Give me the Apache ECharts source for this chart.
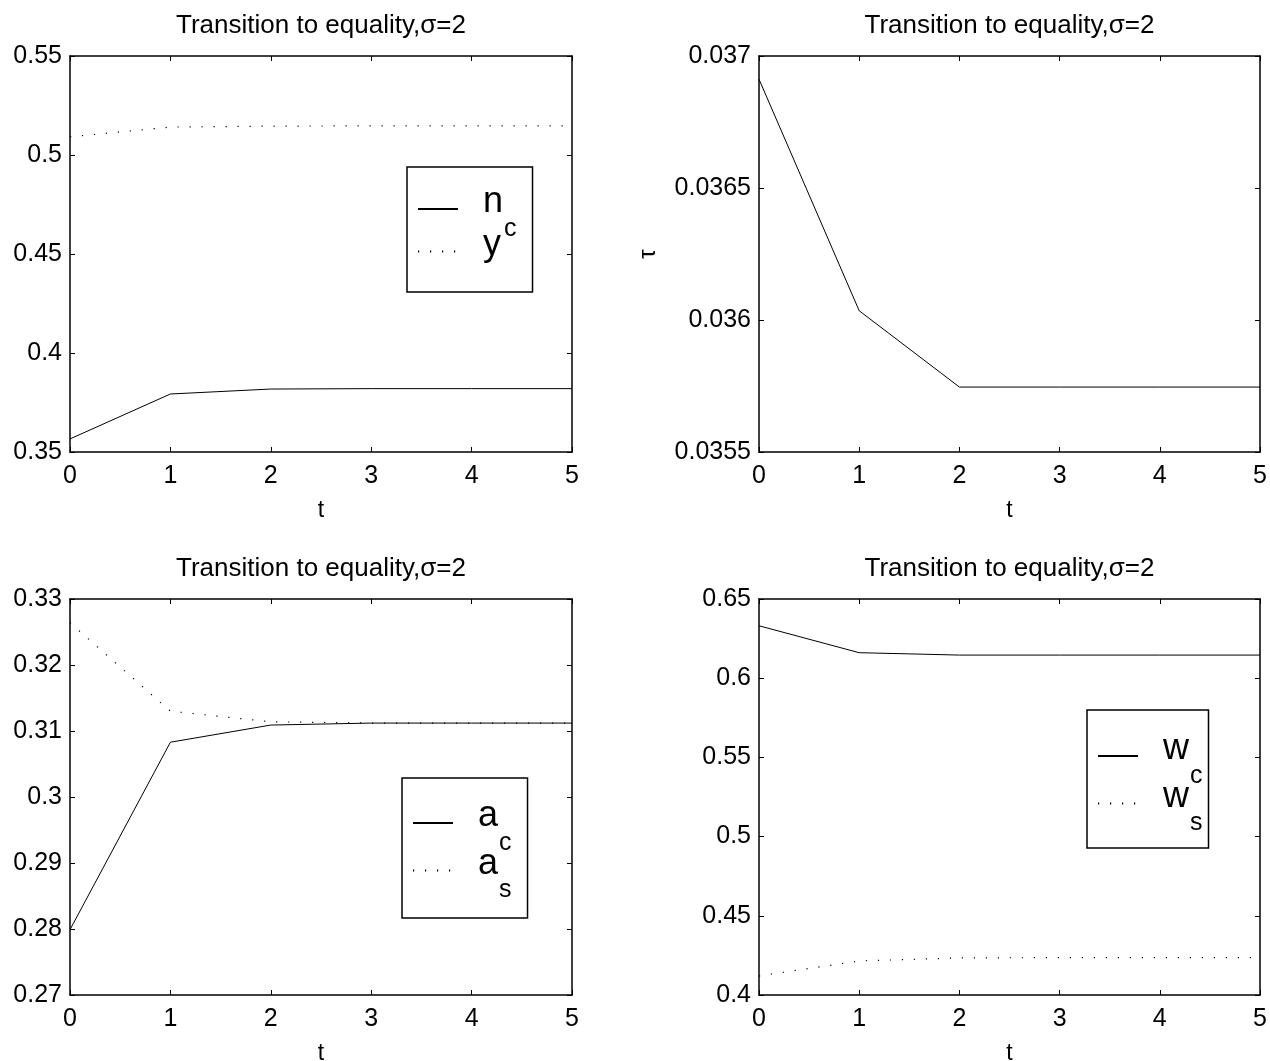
<!DOCTYPE html>
<html>
<head>
<meta charset="utf-8">
<script src="https://cdn.jsdelivr.net/npm/echarts@6/dist/echarts.min.js"></script>
<style>
html,body{margin:0;padding:0;background:#fff;}
#c{width:1270px;height:1061px;}
</style>
</head>
<body>
<div id="c"></div>
<script>
// ---- data ----
var t = [0, 1, 2, 3, 4, 5];
var nC = [0.3566, 0.3793, 0.3818, 0.3820, 0.3820, 0.3820];
var yOut = [0.5092, 0.5141, 0.5146, 0.5147, 0.5147, 0.5147];
var tau = [0.036912, 0.036035, 0.035746, 0.035746, 0.035746, 0.035746];
var aC = [0.2799, 0.3083, 0.3109, 0.3112, 0.3112, 0.3112];
var aS = [0.3264, 0.3130, 0.3114, 0.3112, 0.3112, 0.3112];
var wC = [0.6331, 0.6161, 0.6146, 0.6146, 0.6146, 0.6146];
var wS = [0.4120, 0.4215, 0.4234, 0.4236, 0.4236, 0.4236];
var titleText = 'Transition to equality,\u03c3=2';
var xTicks = {min: 0, max: 5, interval: 1};
var yRanges = [
  {min: 0.35, max: 0.55, interval: 0.05},
  {min: 0.0355, max: 0.037, interval: 0.0005},
  {min: 0.27, max: 0.33, interval: 0.01},
  {min: 0.40, max: 0.65, interval: 0.05}
];

var FONT = '"Liberation Sans", Arial, Helvetica, sans-serif';
var grids = [
  {left: 70, top: 56, width: 502, height: 396, outerBoundsMode: 'none'},
  {left: 759, top: 56, width: 501, height: 396, outerBoundsMode: 'none'},
  {left: 70, top: 599, width: 502, height: 396, outerBoundsMode: 'none'},
  {left: 759, top: 599, width: 501, height: 396, outerBoundsMode: 'none'}
];

function pairs(vals) { return t.map(function (x, i) { return [x, vals[i]]; }); }

var xAxes = [], yAxes = [];
grids.forEach(function (g, i) {
  var lineC = {show: true, onZero: false, lineStyle: {color: '#000', width: 1.5}};
  xAxes.push({
    type: 'value', gridIndex: i, position: 'bottom',
    min: xTicks.min, max: xTicks.max, interval: xTicks.interval,
    axisLine: lineC, axisTick: {inside: true, length: 5, lineStyle: {color: '#000'}},
    axisLabel: {color: '#000', fontSize: 25, fontFamily: FONT, margin: 12},
    splitLine: {show: false},
    name: 't', nameLocation: 'middle', nameGap: 47,
    nameTextStyle: {color: '#000', fontSize: 23, fontFamily: FONT}
  });
  xAxes.push({
    type: 'value', gridIndex: i, position: 'top',
    min: xTicks.min, max: xTicks.max, interval: xTicks.interval,
    axisLine: lineC, axisTick: {inside: true, length: 5, lineStyle: {color: '#000'}},
    axisLabel: {show: false}, splitLine: {show: false},
    name: titleText, nameLocation: 'middle', nameGap: 17,
    nameTextStyle: {color: '#000', fontSize: 26, fontFamily: FONT}
  });
  var yr = yRanges[i];
  var yl = {
    type: 'value', gridIndex: i, position: 'left',
    min: yr.min, max: yr.max, interval: yr.interval,
    axisLine: lineC, axisTick: {inside: true, length: 5, lineStyle: {color: '#000'}},
    axisLabel: {color: '#000', fontSize: 25, fontFamily: FONT, margin: 8},
    splitLine: {show: false}
  };
  if (i === 1) {
    yl.name = '\u03c4'; yl.nameLocation = 'middle'; yl.nameGap = 99;
    yl.nameTextStyle = {color: '#000', fontSize: 24, fontFamily: FONT};
  }
  yAxes.push(yl);
  yAxes.push({
    type: 'value', gridIndex: i, position: 'right',
    min: yr.min, max: yr.max, interval: yr.interval,
    axisLine: lineC, axisTick: {inside: true, length: 5, lineStyle: {color: '#000'}},
    axisLabel: {show: false}, splitLine: {show: false}
  });
});

var DOT = [1.2, 10.8];
function mk(name, vals, gi, dotted) {
  return {
    name: name, type: 'line', xAxisIndex: 2 * gi, yAxisIndex: 2 * gi,
    data: pairs(vals), symbol: 'none', showSymbol: false,
    lineStyle: {color: '#000', width: dotted ? 1.2 : 1, type: dotted ? DOT : 'solid'},
    itemStyle: {color: '#000'}
  };
}

var labels = {
  n_c: '{m|n}{s|c}', y: '{m|y}', a_c: '{m|a}{s|c}', a_s: '{m|a}{s|s}',
  w_c: '{m|w}{s|c}', w_s: '{m|w}{s|s}'
};
var rich = {
  m: {fontSize: 36, lineHeight: 58, fontFamily: FONT, color: '#000', verticalAlign: 'top', padding: [4.5, 0, 0, 20]},
  s: {fontSize: 25, lineHeight: 58, fontFamily: FONT, color: '#000', verticalAlign: 'top', padding: [36.5, 0, 0, 1]}
};
function legend(names, left, top, pad, gap) {
  return {
    data: names, orient: 'vertical', left: left, top: top,
    borderColor: '#000', borderWidth: 1.5, padding: pad,
    itemWidth: 40, itemHeight: 14, itemGap: gap,
    itemStyle: {opacity: 0, borderWidth: 0},
    formatter: function (n) { return labels[n]; },
    textStyle: {rich: rich, fontFamily: FONT, color: '#000'},
    selectedMode: false
  };
}

var option = {
  animation: false,
  backgroundColor: '#fff',
  grid: grids,
  xAxis: xAxes,
  yAxis: yAxes,
  legend: [
    legend(['n_c', 'y'], 407, 167, [13, 16, 29, 10], -19),
    legend(['a_c', 'a_s'], 402, 778, [16, 16, 15, 10], -14),
    legend(['w_c', 'w_s'], 1087, 710, [17, 6, 12, 10], -14)
  ],
  series: [
    mk('n_c', nC, 0, false),
    mk('y', yOut, 0, true),
    mk('tau', tau, 1, false),
    mk('a_c', aC, 2, false),
    mk('a_s', aS, 2, true),
    mk('w_c', wC, 3, false),
    mk('w_s', wS, 3, true)
  ]
};
var chart = echarts.init(document.getElementById('c'));
chart.setOption(option);
</script>
</body>
</html>
